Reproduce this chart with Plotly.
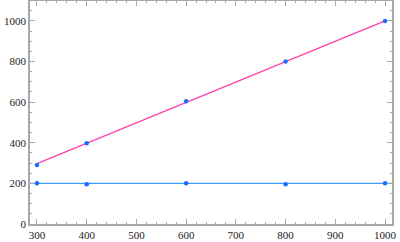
import plotly.graph_objects as go

x_vals = [300, 400, 600, 800, 1000]
y_rising = [290, 397, 605, 800, 999]
y_flat = [201, 196, 201, 196, 201]
fit_x = [300, 1000]
fit_y = [297, 1000]
flat_level = 200
x_ticks = [300, 400, 500, 600, 700, 800, 900, 1000]
y_ticks = [0, 200, 400, 600, 800, 1000]

FONT = "Liberation Serif, Times New Roman, serif"

fig = go.Figure()
fig.add_hline(y=flat_level, line=dict(color="#3f9bff", width=1.2), layer="below")
fig.add_trace(go.Scatter(x=fit_x, y=fit_y, mode="lines",
                         line=dict(color="#ff3fa8", width=1.2)))
fig.add_trace(go.Scatter(x=x_vals, y=y_rising, mode="markers",
                         marker=dict(color="#1a6cff", size=4.5)))
fig.add_trace(go.Scatter(x=x_vals, y=y_flat, mode="markers",
                         marker=dict(color="#1a6cff", size=4.5)))

axis_common = dict(
    showgrid=False, zeroline=False, showline=True, linecolor="#a8a8a8",
    linewidth=1.5, mirror="ticks", ticks="inside", ticklen=5, tickcolor="#a8a8a8",
    tickwidth=1, automargin=False,
    tickfont=dict(family=FONT, size=11, color="#222"),
)
fig.update_xaxes(range=[286, 1014], tickvals=x_ticks, ticktext=[str(v) for v in x_ticks],
                 minor=dict(dtick=20, ticklen=2.5, tickcolor="#a8a8a8", ticks="inside"),
                 **axis_common)
fig.update_yaxes(range=[0, 1098], tickvals=y_ticks, ticktext=[str(v) for v in y_ticks],
                 minor=dict(dtick=50, ticklen=2.5, tickcolor="#a8a8a8", ticks="inside"),
                 **axis_common)
fig.update_layout(width=400, height=242, margin=dict(l=30, r=8, t=1, b=18, pad=0),
                  showlegend=False, plot_bgcolor="white", paper_bgcolor="white",
                  font=dict(family=FONT))
fig.write_html("out.html", config={"displayModeBar": False},
               post_script="document.body.style.margin='0';document.body.style.padding='0';")
